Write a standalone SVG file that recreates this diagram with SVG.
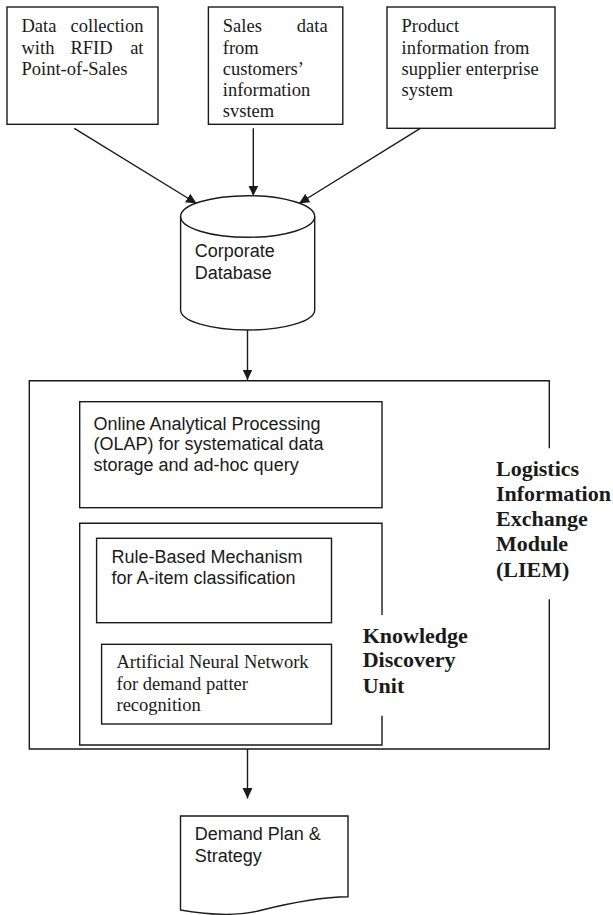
<svg xmlns="http://www.w3.org/2000/svg" width="613" height="915" viewBox="0 0 613 915">
<defs>
<marker id="ah" markerUnits="userSpaceOnUse" markerWidth="11" markerHeight="11" refX="10.5" refY="5" orient="auto">
<path d="M0,0 L10.5,5 L0,10 z" fill="#1a1a1a"/>
</marker>
<style>
.box{fill:#fff;stroke:#1a1a1a;stroke-width:1.4}
.ln{fill:none;stroke:#1a1a1a;stroke-width:1.4}
.con{fill:none;stroke:#1a1a1a;stroke-width:1.4;marker-end:url(#ah)}
.serif{font-family:"Liberation Serif","Times New Roman",serif;font-size:18.5px;fill:#1a1a1a}
.sans{font-family:"Liberation Sans",Arial,sans-serif;font-size:18px;fill:#1a1a1a}
.bold{font-family:"Liberation Serif","Times New Roman",serif;font-size:22px;font-weight:bold;fill:#1a1a1a}
</style>
</defs>
<rect width="613" height="915" fill="#fff"/>

<g id="connectors">
<line class="con" x1="74.3" y1="128.3" x2="196.6" y2="203.5"/>
<line class="con" x1="253.3" y1="128.3" x2="253.3" y2="196"/>
<line class="con" x1="420.3" y1="128.3" x2="299" y2="203.5"/>
<line class="con" x1="247.5" y1="330" x2="247.5" y2="380"/>
<line class="con" x1="247.5" y1="749" x2="247.5" y2="798.5"/>
</g>

<g id="rfid">
<rect class="box" x="7" y="7" width="151" height="117.3"/>
<text class="serif"><tspan x="21.5" y="32.3">Data</tspan><tspan x="143.5" y="32.3" text-anchor="end">collection</tspan></text>
<text class="serif"><tspan x="21.5" y="53.5">with</tspan><tspan x="70.4" y="53.5">RFID</tspan><tspan x="143.5" y="53.5" text-anchor="end">at</tspan></text>
<text class="serif" x="21.5" y="74.8">Point-of-Sales</text>
</g>

<g id="sales">
<rect class="box" x="208.4" y="7" width="134.4" height="117.3"/>
<text class="serif"><tspan x="222.8" y="32.3">Sales</tspan><tspan x="327.6" y="32.3" text-anchor="end">data</tspan></text>
<text class="serif"><tspan x="222.8" y="53.5">from</tspan><tspan x="222.8" y="74.8">customers’</tspan><tspan x="222.8" y="96">information</tspan><tspan x="222.8" y="117">svstem</tspan></text>
</g>

<g id="product">
<rect class="box" x="387" y="7" width="168" height="121.3"/>
<text class="serif"><tspan x="401.5" y="32.3">Product</tspan><tspan x="401.5" y="53.5">information from</tspan><tspan x="401.5" y="74.8">supplier enterprise</tspan><tspan x="401.5" y="96">system</tspan></text>
</g>

<g id="database">
<path class="box" d="M180.6,216.5 L180.6,310 A67,20 0 0 0 314.7,310 L314.7,216.5 A67,20.8 0 0 0 180.6,216.5 Z"/>
<path class="ln" d="M180.6,216.5 A67,20.8 0 0 0 314.7,216.5"/>
<text class="sans"><tspan x="194.7" y="257.3">Corporate</tspan><tspan x="194.7" y="279">Database</tspan></text>
</g>

<g id="liem">
<path class="ln" d="M549.3,448.3 L549.3,380.7 L29.3,380.7 L29.3,749 L549.3,749 L549.3,599.3"/>
<text class="bold"><tspan x="496" y="475.5">Logistics</tspan><tspan x="496" y="500.7">Information</tspan><tspan x="496" y="526">Exchange</tspan><tspan x="496" y="551.2">Module</tspan><tspan x="496" y="576.5">(LIEM)</tspan></text>
</g>

<g id="olap">
<rect class="box" x="79.7" y="401.7" width="302.3" height="106"/>
<text class="sans"><tspan x="93.5" y="429.5">Online Analytical Processing</tspan><tspan x="93.5" y="450">(OLAP) for systematical data</tspan><tspan x="93.5" y="470.5">storage and ad-hoc query</tspan></text>
</g>

<g id="kdu">
<path class="ln" d="M382,615 L382,523.3 L79.7,523.3 L79.7,745 L382,745 L382,715.7"/>
<text class="bold"><tspan x="362.7" y="642.5">Knowledge</tspan><tspan x="362.7" y="667">Discovery</tspan><tspan x="362.7" y="692.5">Unit</tspan></text>
</g>

<g id="rule">
<rect class="box" x="96.6" y="538.3" width="234.9" height="84.4"/>
<text class="sans"><tspan x="111.4" y="563.3">Rule-Based Mechanism</tspan><tspan x="111.4" y="584">for A-item classification</tspan></text>
</g>

<g id="ann">
<rect class="box" x="101.6" y="644.3" width="229.9" height="79.7"/>
<text class="serif"><tspan x="116.5" y="668.3">Artificial Neural Network</tspan><tspan x="116.5" y="690">for demand patter</tspan><tspan x="116.5" y="710.7">recognition</tspan></text>
</g>

<g id="plan">
<path class="box" d="M180.5,816 L348,816 L348,896.7 C320,897 290,903 262,910 C240,916 215,916 180.5,910 Z"/>
<text class="sans"><tspan x="194.7" y="840">Demand Plan &amp;</tspan><tspan x="194.7" y="861.7">Strategy</tspan></text>
</g>
</svg>
